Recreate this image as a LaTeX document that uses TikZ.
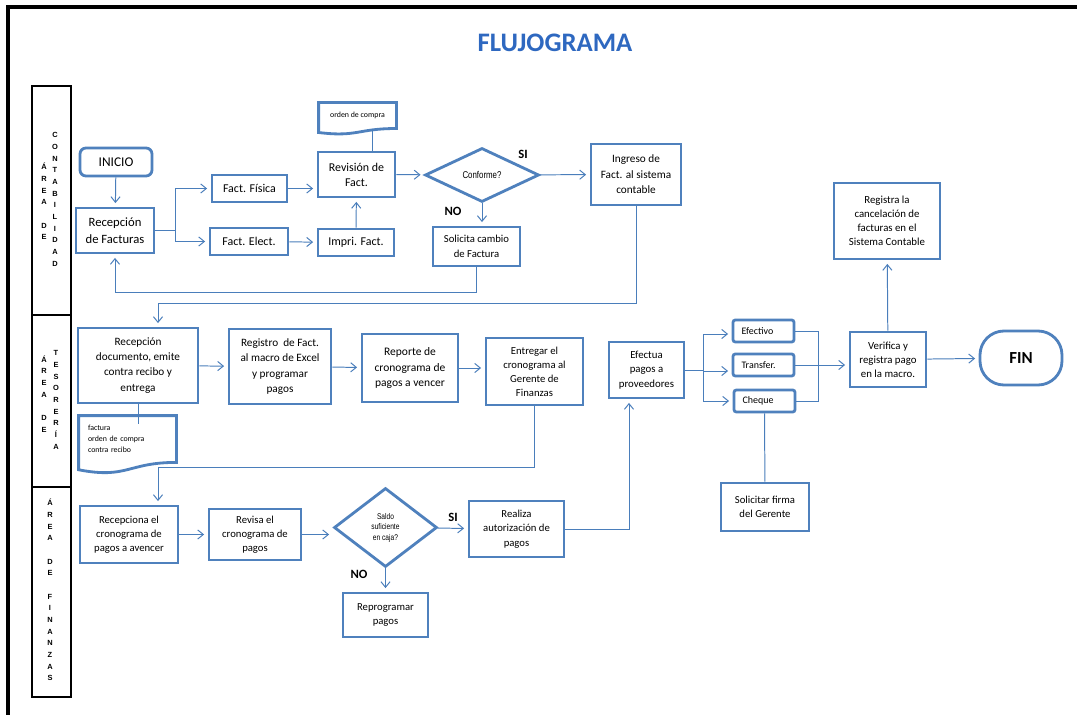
\documentclass[tikz,border=0pt]{standalone}
\usepackage{fontspec}
\setmainfont{Carlito}
\newfontfamily\arialfont{Liberation Sans}
\newfontfamily\narrowfont[FakeStretch=0.8]{Liberation Sans}
\usepackage{xcolor}
\usetikzlibrary{arrows.meta, shapes}

\definecolor{boxblue}{RGB}{79,129,189}
\definecolor{lineblue}{RGB}{74,126,187}
\definecolor{titleblue}{RGB}{46,104,192}

\tikzset{
  flujo/.style={draw=lineblue, line width=0.7pt},
  lane/.style={draw=black, line width=1.4pt, minimum width=0.975cm, inner sep=0pt},
  lanetext/.style={align=center, font=\arialfont\bfseries\fontsize{5.3}{8.3}\selectfont},
  sino/.style={font=\bfseries\fontsize{9}{10}\selectfont},
  pago/.style={rounded corners=0.06cm, minimum height=0.55cm, text width=1.1cm, inner xsep=0.2125cm, align=left, font=\fontsize{7.1}{8}\selectfont}
}

% contorno de documento (borde inferior ondulado)
\newcommand{\docoutline}[3]{%
  \draw[boxblue, line width=2pt] (#1.north west) -- (#1.north east) -- (#1.south east)
    .. controls (#1.south) and ([yshift=-#3]#1.south) .. ([yshift=-#2]#1.south west) -- cycle;}

\begin{document}
\begin{tikzpicture}
\path[use as bounding box, fill=white] (0,0) rectangle (26.925,-17.875);

% marco
\draw[line width=2.2pt] (0.2,-17.875) -- (0.2,-0.175) -- (26.925,-0.175);
\node[text=titleblue, font=\bfseries\fontsize{19}{22}\selectfont] (titulo) at (13.875,-1.075) {FLUJOGRAMA};

% carriles
\node[lane, minimum height=5.725cm] (carril1) at (1.2875,-5.0125) {};
\node[lane, minimum height=4.3cm] (carril2) at (1.2875,-10.025) {};
\node[lane, minimum height=5.25cm] (carril3) at (1.2875,-14.8) {};
\node[lanetext] (area1) at (1.1,-5.0375) {Á\\R\\E\\A\\[8.3pt]D\\E};
\node[lanetext] (nombre1) at (1.375,-4.9875) {C\\O\\N\\T\\A\\B\\I\\L\\I\\D\\A\\D};
\node[lanetext] (area2) at (1.1,-9.85) {Á\\R\\E\\A\\[8.3pt]D\\E};
\node[lanetext] (nombre2) at (1.4,-10.0) {T\\E\\S\\O\\R\\E\\R\\Í\\A};
\node[lanetext] (area3) at (1.25,-14.75) {Á\\R\\E\\A\\[8.3pt]D\\E\\[8.3pt]F\\I\\N\\A\\N\\Z\\A\\S};

\begin{scope}[every node/.style={rectangle, draw=boxblue, line width=2pt, fill=white, align=center, inner sep=1pt, font=\fontsize{7.7}{10.3}\selectfont}]
  % contabilidad
  \node[rounded corners=0.15cm, minimum width=1.8cm, minimum height=0.7cm, font=\fontsize{9.5}{11}\selectfont] (inicio) at (2.9,-4.05) {INICIO};
  \node[minimum width=1.95cm, minimum height=1.125cm, font=\fontsize{9}{12}\selectfont] (recfac) at (2.875,-5.7625) {Recepción\\de Facturas};
  \node[minimum width=1.875cm, minimum height=0.675cm, font=\fontsize{8.5}{10}\selectfont] (fisica) at (6.2375,-4.7125) {Fact. Física};
  \node[minimum width=1.95cm, minimum height=0.675cm, font=\fontsize{8.5}{10}\selectfont] (elect) at (6.225,-6.0375) {Fact. Elect.};
  \node[minimum width=1.925cm, minimum height=1.125cm, font=\fontsize{8.5}{10.7}\selectfont] (revision) at (8.9125,-4.3625) {Revisión de\\Fact.};
  \node[minimum width=1.9cm, minimum height=0.675cm, font=\fontsize{8.5}{10}\selectfont] (impri) at (8.9,-6.0625) {Impri. Fact.};
  \node[draw=none, fill=none, minimum width=1.875cm, minimum height=0.58cm, font=\fontsize{5.6}{7}\selectfont] (ordendoc) at (8.9375,-2.8875) {orden de compra};
  \node[diamond, minimum width=2.85cm, minimum height=1.35cm, inner sep=0pt, font=\narrowfont\fontsize{7}{8}\selectfont] (conforme) at (12.05,-4.375) {Conforme?};
  \node[minimum width=2.25cm, minimum height=1.525cm, font=\fontsize{8}{11}\selectfont] (ingreso) at (15.9,-4.3625) {Ingreso de\\Fact. al sistema\\contable};
  \node[minimum width=2.175cm, minimum height=0.975cm, font=\fontsize{7.6}{10.4}\selectfont] (solicita) at (11.9125,-6.1625) {Solicita cambio\\de Factura};
  % tesoreria
  \node[minimum width=3.0cm, minimum height=1.875cm, font=\fontsize{8}{10.8}\selectfont] (recdoc) at (3.45,-9.1375) {Recepción\\documento, emite\\contra recibo y\\entrega};
  \node[minimum width=2.55cm, minimum height=1.875cm, font=\fontsize{8}{10.8}\selectfont] (registro) at (7.0,-9.1625) {Registro\ \ de Fact.\\al macro de Excel\\y programar\\pagos};
  \node[minimum width=2.4cm, minimum height=1.7cm, font=\fontsize{8.2}{10.8}\selectfont] (reporte) at (10.25,-9.2) {Reporte de\\cronograma de\\pagos a vencer};
  \node[minimum width=2.425cm, minimum height=1.675cm, font=\fontsize{7.6}{10}\selectfont] (entregar) at (13.3625,-9.2875) {Entregar el\\cronograma al\\Gerente de\\Finanzas};
  \node[minimum width=1.875cm, minimum height=1.4cm] (efectua) at (16.1625,-9.25) {Efectua\\pagos a\\proveedores};
  \node[draw=none, fill=none, text width=1.975cm, inner xsep=0.2cm, minimum height=1.1cm, align=left, font=\fontsize{5.6}{7.8}\selectfont] (docfac) at (3.1875,-10.975) {factura\\orden de compra\\contra recibo};
  \node[pago] (efectivo) at (19.0875,-8.275) {Efectivo};
  \node[pago] (transfer) at (19.0875,-9.125) {Transfer.};
  \node[pago] (cheque) at (19.1125,-10.025) {Cheque};
  \node[minimum width=1.9cm, minimum height=1.375cm, font=\fontsize{7.7}{10}\selectfont] (verifica) at (22.2,-8.9875) {Verifica y\\registra\ pago\\en la macro.};
  \node[rounded corners=0.6cm, minimum width=2.05cm, minimum height=1.35cm, font=\bfseries\fontsize{12}{14}\selectfont] (fin) at (25.525,-8.95) {FIN};
  \node[minimum width=2.65cm, minimum height=1.9cm, font=\fontsize{7.7}{10}\selectfont] (registra) at (22.175,-5.525) {Registra la\\cancelación de\\facturas en el\\Sistema Contable};
  \node[minimum width=2.2cm, minimum height=1.2cm, font=\fontsize{7.6}{10.4}\selectfont] (firma) at (19.125,-12.675) {Solicitar firma\\del Gerente};
  % finanzas
  \node[minimum width=2.45cm, minimum height=1.425cm, font=\fontsize{7.6}{10}\selectfont] (recepciona) at (3.225,-13.3625) {Recepciona el\\cronograma de\\pagos a avencer};
  \node[minimum width=2.3cm, minimum height=1.275cm, font=\fontsize{7.6}{10}\selectfont] (revisa) at (6.375,-13.3625) {Revisa el\\cronograma de\\pagos};
  \node[diamond, minimum width=2.575cm, minimum height=1.975cm, inner sep=0pt, font=\narrowfont\fontsize{5.9}{7.4}\selectfont] (saldo) at (9.6375,-13.1875) {Saldo\\suficiente\\en caja?};
  \node[minimum width=2.375cm, minimum height=1.4cm, font=\fontsize{7.6}{10.3}\selectfont] (realiza) at (12.9125,-13.225) {Realiza\\autorización de\\pagos};
  \node[minimum width=2.125cm, minimum height=1.1cm, font=\fontsize{7.6}{10}\selectfont] (reprog) at (9.6375,-15.375) {Reprogramar\\pagos};
\end{scope}

\docoutline{ordendoc}{0.1cm}{0.22cm}
\docoutline{docfac}{0.184cm}{0.42cm}

\node[sino] (si1) at (13.075,-3.85) {SI};
\node[sino] (no1) at (11.325,-5.275) {NO};
\node[sino] (si2) at (11.325,-12.925) {SI};
\node[sino] (no2) at (8.975,-14.35) {NO};

\coordinate (rama1) at (4.375,-5.7625);
\coordinate (c2) at (3.95,-7.575);
\coordinate (c3) at (3.95,-11.675);
\coordinate (c4) at (15.725,-13.225);
\coordinate (rama2) at (17.575,-9.25);
\coordinate (rama3) at (20.45,-8.25);

\begin{scope}[>={Straight Barb[length=4pt,width=6.5pt]},
              every edge/.style={flujo, shorten >=2.5pt}]
    \path[->] (inicio) edge (recfac);
    \draw[flujo] (recfac.east) -- (rama1);
    \draw[flujo, ->, shorten >=2.5pt] (rama1) |- (fisica);
    \draw[flujo, ->, shorten >=2.5pt] (rama1) |- (elect);
    \path[->] (fisica) edge (fisica -| revision.west);
    \path[->] (elect) edge (impri);
    \path[->] (impri) edge (revision);
    \draw[flujo] ([xshift=0.3875cm]revision.north) -- ([xshift=0.3875cm]revision.north |- ordendoc.south);
    \path[->] (revision) edge (conforme);
    \path[->] (conforme) edge (ingreso);
    \path[->] (conforme) edge (conforme |- solicita.north);
    \draw[flujo, ->, shorten >=2.5pt] (solicita.south) -- ++(0,-0.625) -| (recfac.south);
    \draw[flujo, ->, shorten >=2.5pt] (ingreso.south) |- (c2) -- (c2 |- recdoc.north);

    \path[->] (recdoc) edge (registro);
    \path[->] (registro) edge (reporte);
    \path[->] (reporte) edge (reporte -| entregar.west);
    \draw[flujo] (recdoc.south) -- ([yshift=-0.2cm]recdoc.south |- docfac.north);
    \draw[flujo, ->, shorten >=2.5pt] (entregar.south) |- (c3) -- (c3 |- recepciona.north);

    \path[->] (recepciona) edge (revisa);
    \path[->] (revisa) edge (revisa -| saldo.west);
    \path[->] (saldo) edge (realiza);
    \path[->] (saldo) edge (reprog);
    \draw[flujo, ->, shorten >=2.5pt] (realiza.east) -- (c4) -- (c4 |- efectua.south);

    \draw[flujo] (efectua.east) -- (rama2);
    \draw[flujo, ->, shorten >=2.5pt] (rama2) |- ([yshift=-0.075cm]efectivo.west);
    \draw[flujo, ->, shorten >=2.5pt] (rama2) |- ([yshift=-0.15cm]transfer.west);
    \draw[flujo, ->, shorten >=2.5pt] (rama2) |- (cheque.west);
    \draw[flujo] (efectivo.east) -- (efectivo.east -| rama3) -- (cheque.east -| rama3) -- (cheque.east);
    \path[->] (transfer) edge (transfer -| verifica.west);
    \path[->] (verifica) edge (fin);
    \path[->] (verifica) edge (registra);
    \draw[flujo] (cheque) -- (firma);
\end{scope}

\end{tikzpicture}
\end{document}
